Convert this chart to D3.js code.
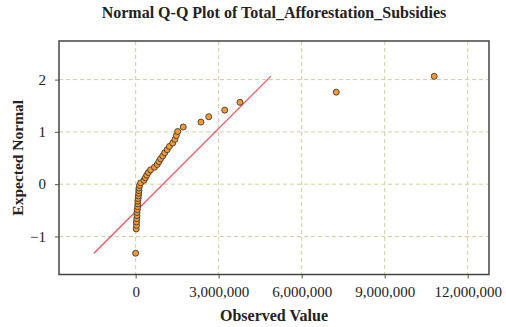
<!DOCTYPE html>
<html>
<head>
<meta charset="utf-8">
<script src="https://cdn.jsdelivr.net/npm/d3@7"></script>
<style>
  body { margin: 0; background: #fff; }
  svg text { font-family: "Liberation Serif", "DejaVu Serif", serif; fill: #222; }
</style>
</head>
<body>
<svg id="chart"></svg>
<script>
let width = 506;
let height = 327;
let margin = { top: 41, right: 17, bottom: 52.5, left: 59 };

// observed values (ties at 0 drawn as one point)
let observed = [
  0, 20000, 30000, 30000, 40000, 50000, 50000, 60000, 70000, 80000,
  80000, 90000, 100000, 110000, 120000, 120000, 140000, 180000, 300000, 350000,
  400000, 460000, 540000, 680000, 780000, 840000, 900000, 980000, 1050000, 1140000,
  1220000, 1340000, 1420000, 1470000, 1520000, 1720000, 2360000, 2640000, 3220000, 3770000,
  7250000, 10790000
];
let expected = [
  -1.32, -0.856, -0.786, -0.722, -0.659, -0.600, -0.541, -0.486, -0.431, -0.377,
  -0.324, -0.274, -0.223, -0.173, -0.123, -0.074, -0.025, 0.025, 0.074, 0.123,
  0.173, 0.223, 0.274, 0.324, 0.377, 0.431, 0.486, 0.541, 0.600, 0.659,
  0.722, 0.786, 0.856, 0.929, 1.007, 1.093, 1.187, 1.290, 1.416, 1.565,
  1.760, 2.062
];

// reference line end points
let lineObserved = [-1507000, 4880000];
let lineExpected = [-1.32, 2.062];

let xTicks = [0, 3000000, 6000000, 9000000, 12000000];
let yTicks = [-1, 0, 1, 2];

let svg = d3.select("#chart").attr("width", width).attr("height", height);

let x0 = margin.left, x1 = width - margin.right;
let y0 = height - margin.bottom, y1 = margin.top;

let xScale = d3.scaleLinear().domain([-2770000, 12770000]).range([x0, x1]);
let yScale = d3.scaleLinear().domain([-1.727, 2.738]).range([y0, y1]);

// grid
svg.append("g")
  .selectAll("line")
  .data(xTicks)
  .enter()
  .append("line")
  .attr("x1", (d) => xScale(d))
  .attr("x2", (d) => xScale(d))
  .attr("y1", y1)
  .attr("y2", y0)
  .attr("stroke", "#cfcf9c")
  .attr("stroke-width", 1)
  .attr("stroke-dasharray", "4,3");

svg.append("g")
  .selectAll("line")
  .data(yTicks)
  .enter()
  .append("line")
  .attr("x1", x0)
  .attr("x2", x1)
  .attr("y1", (d) => yScale(d))
  .attr("y2", (d) => yScale(d))
  .attr("stroke", "#cfcf9c")
  .attr("stroke-width", 1)
  .attr("stroke-dasharray", "4,3");

// axes
let xAxis = d3.axisBottom(xScale).tickValues(xTicks).tickSize(4).tickSizeOuter(0)
  .tickFormat(d3.format(","));
let yAxis = d3.axisLeft(yScale).tickValues(yTicks).tickSize(4).tickSizeOuter(0)
  .tickFormat((d) => (d < 0 ? "\u2212" + Math.abs(d) : d));

let gx = svg.append("g")
  .attr("transform", "translate(0, " + y0 + ")")
  .call(xAxis);
gx.select(".domain").remove();
gx.selectAll("line").attr("stroke", "#555");
gx.selectAll("text").attr("font-size", 15).attr("dy", "1.05em").attr("fill", "#222");

let gy = svg.append("g")
  .attr("transform", "translate(" + x0 + ", 0)")
  .call(yAxis);
gy.select(".domain").remove();
gy.selectAll("line").attr("stroke", "#555");
gy.selectAll("text").attr("font-size", 15).attr("x", -13).attr("fill", "#222");

// frame
svg.append("rect")
  .attr("x", x0)
  .attr("y", y1)
  .attr("width", x1 - x0)
  .attr("height", y0 - y1)
  .attr("fill", "none")
  .attr("stroke", "#444")
  .attr("stroke-width", 1.5);

// reference line
svg.append("line")
  .attr("x1", xScale(lineObserved[0]))
  .attr("y1", yScale(lineExpected[0]))
  .attr("x2", xScale(lineObserved[1]))
  .attr("y2", yScale(lineExpected[1]))
  .attr("stroke", "#f0505a")
  .attr("stroke-width", 1.3);

// points
svg.append("g")
  .selectAll("circle")
  .data(observed)
  .enter()
  .append("circle")
  .attr("cx", (d) => xScale(d))
  .attr("cy", (d, i) => yScale(expected[i]))
  .attr("r", 3)
  .attr("fill", "#f39a32")
  .attr("stroke", "#3a3a3a")
  .attr("stroke-width", 0.9);

// titles
svg.append("text")
  .attr("x", 274)
  .attr("y", 18)
  .attr("text-anchor", "middle")
  .attr("font-size", 16)
  .attr("font-weight", "bold")
  .text("Normal Q-Q Plot of Total_Afforestation_Subsidies");

svg.append("text")
  .attr("x", 274)
  .attr("y", 321)
  .attr("text-anchor", "middle")
  .attr("font-size", 16)
  .attr("font-weight", "bold")
  .text("Observed Value");

svg.append("text")
  .attr("transform", "translate(23, " + (y1 + y0) / 2 + ") rotate(-90)")
  .attr("text-anchor", "middle")
  .attr("font-size", 15.5)
  .attr("font-weight", "bold")
  .text("Expected Normal");
</script>
</body>
</html>
